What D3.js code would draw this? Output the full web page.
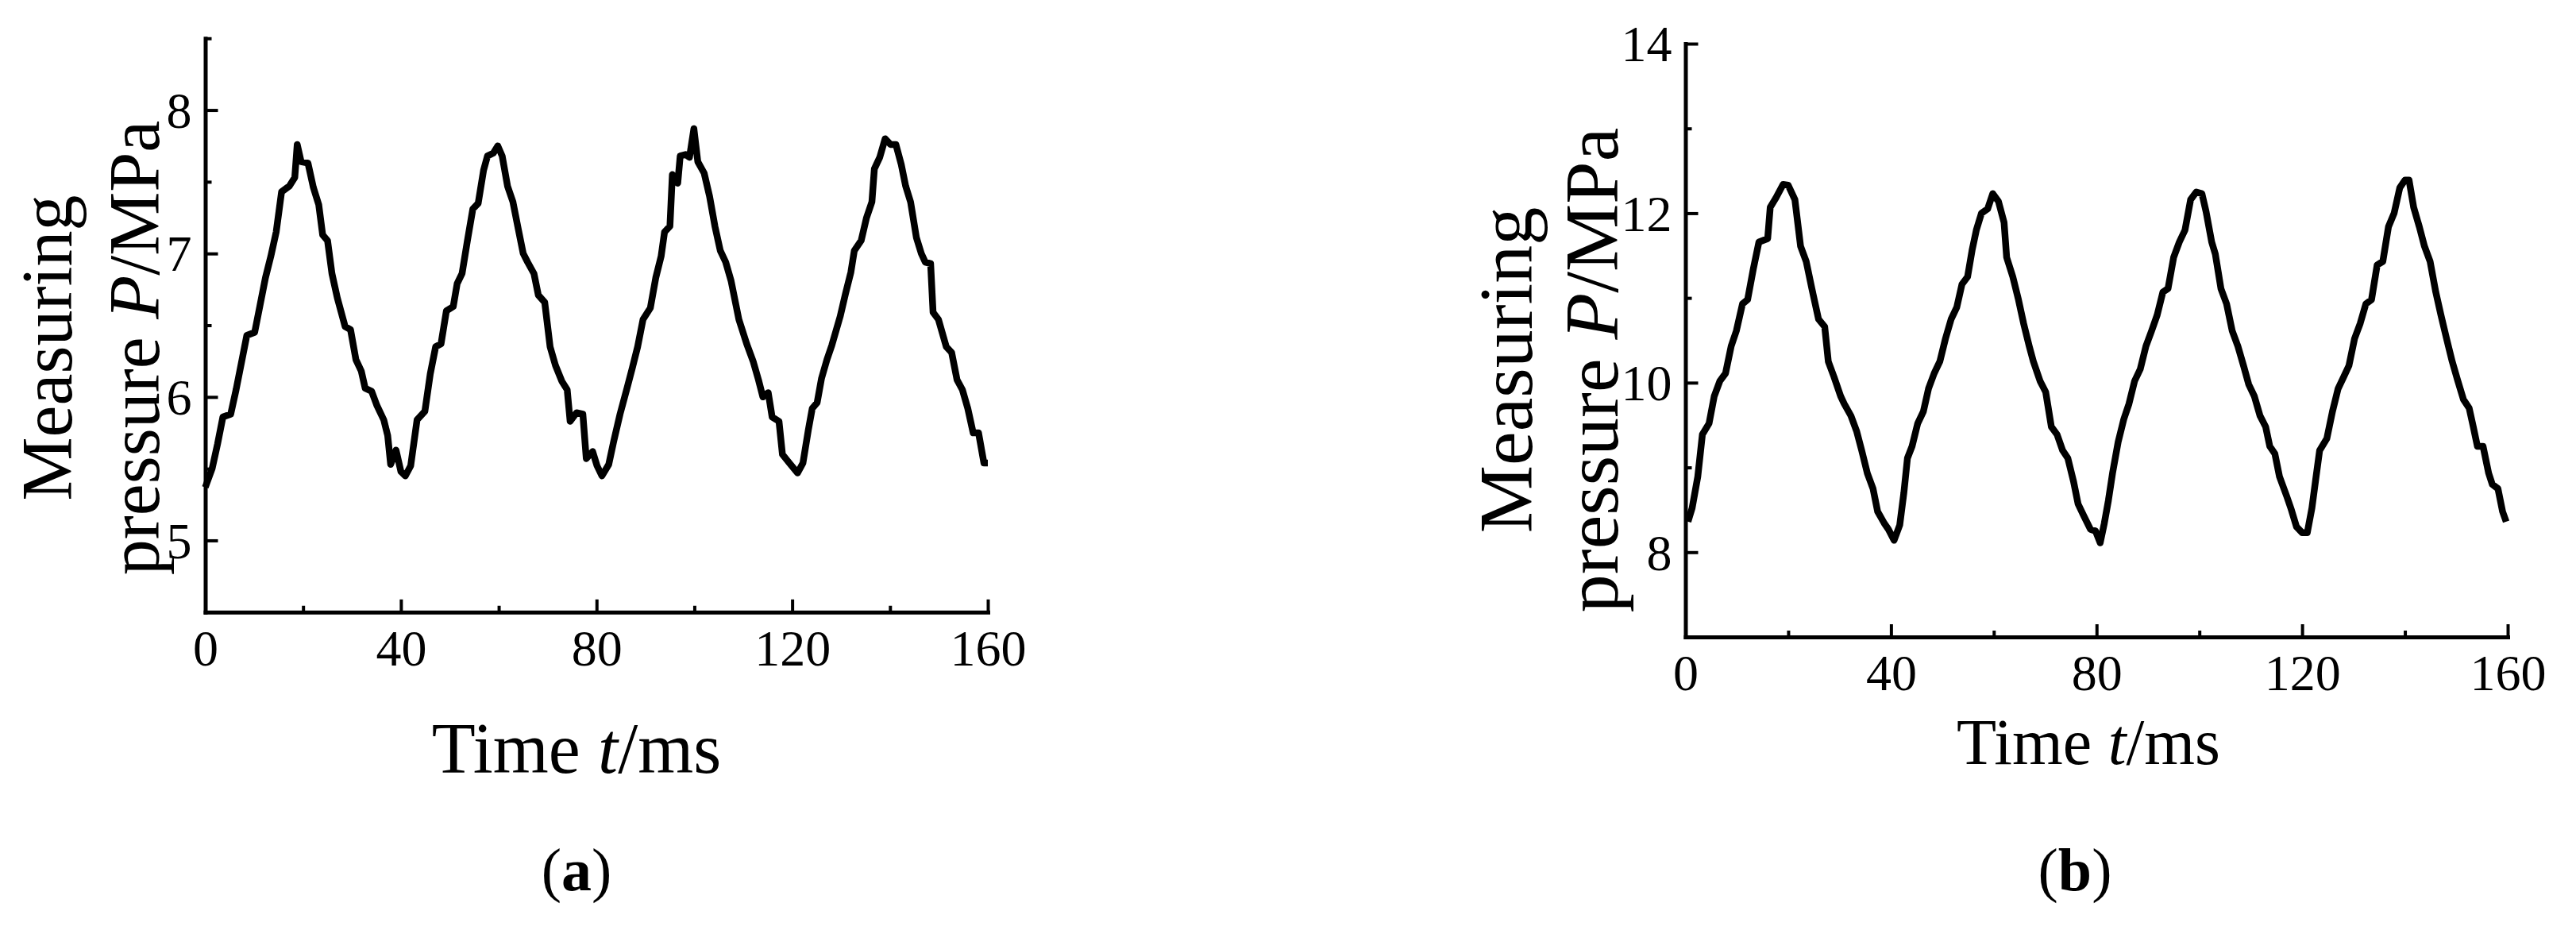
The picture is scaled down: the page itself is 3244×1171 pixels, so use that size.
<!DOCTYPE html>
<html><head><meta charset="utf-8">
<script src="https://cdn.jsdelivr.net/npm/d3@7"></script>
<style>
html,body{margin:0;padding:0;background:#fff;}
svg{display:block;}
text{font-family:"Liberation Serif","Times New Roman",Times,serif;fill:#000;}
</style></head>
<body>
<script>
// ---------- data ----------
const xTicks = [0, 40, 80, 120, 160];
const xMinorTicks = [20, 60, 100, 140];

const yTicksA = [5, 6, 7, 8];
const yMinorA = [5.5, 6.5, 7.5, 8.5];
const yTicksB = [8, 10, 12, 14];
const yMinorB = [9, 11, 13];

// (a) time (ms) and measured pressure (MPa)
const timeA = [0,1.4,2.5,3.6,5.2,6.3,7.4,8.5,10.1,11.2,12.3,13.4,14.5,15.6,17.2,18.3,18.8,19.6,21,22.1,23.2,24,25,25.9,27,28.6,29.7,30.8,31.9,32.7,34,35.1,36.5,37.3,37.9,39,40,40.9,42,43.3,44.9,46,47.1,48.2,49.3,50.7,51.5,52.5,53.6,54.7,55.8,56.9,57.7,58.9,59.8,60.7,61.8,62.9,64,65,65.9,67.2,68.1,69.4,70.5,71.6,72.9,74,74.6,75.9,77.2,77.9,79.2,80.1,81.1,82.5,83.5,84.8,86.3,87.3,88.4,89.5,91,92.1,93.2,93.9,95,95.5,96.6,97.1,98.2,99,99.9,100.7,102,103.1,104.2,105.3,106.4,107.5,109.1,110.7,112,113.1,114,115.1,115.9,117.3,118,119.4,121.1,122.2,123.3,124.1,125.1,126,127.1,128.1,129.8,130.9,132,132.7,134.1,135.2,136.3,136.8,137.9,139,140.1,141.2,142.3,143.2,144.2,145.4,146.4,147.2,148.3,148.8,149.9,151.5,152.6,153.7,154.8,155.9,157,158.1,159.2,160];
const pressureA = [5.37,5.50,5.67,5.86,5.88,6.05,6.24,6.43,6.45,6.64,6.83,6.98,7.15,7.43,7.47,7.53,7.76,7.64,7.63,7.46,7.34,7.13,7.09,6.86,6.69,6.49,6.47,6.26,6.18,6.06,6.04,5.94,5.84,5.73,5.53,5.63,5.48,5.45,5.52,5.84,5.90,6.16,6.35,6.37,6.60,6.63,6.79,6.86,7.09,7.31,7.35,7.58,7.68,7.70,7.75,7.68,7.47,7.36,7.17,7.00,6.94,6.86,6.71,6.66,6.35,6.22,6.11,6.05,5.83,5.89,5.88,5.57,5.62,5.52,5.45,5.53,5.69,5.88,6.07,6.20,6.35,6.54,6.62,6.83,6.98,7.15,7.19,7.55,7.49,7.68,7.69,7.67,7.87,7.64,7.56,7.40,7.19,7.02,6.94,6.81,6.54,6.37,6.25,6.12,6.00,6.03,5.86,5.83,5.60,5.54,5.47,5.54,5.77,5.92,5.96,6.13,6.26,6.36,6.56,6.72,6.87,7.02,7.09,7.25,7.36,7.59,7.67,7.80,7.76,7.76,7.62,7.47,7.36,7.11,7.00,6.94,6.93,6.59,6.54,6.35,6.31,6.12,6.05,5.92,5.75,5.75,5.54,5.54];

// (b) time (ms) and measured pressure (MPa)
const timeB = [0.5,1.3,2.4,3.3,4.6,5.6,6.7,7.8,8.9,9.9,11.1,12.1,13.2,14.3,16,16.5,17.6,19,20,21.3,22.4,23.5,24.6,25.9,27.1,27.8,28.9,30.2,30.9,32.2,33.3,34.3,35.4,36.5,37.4,38.7,39.5,40.6,41.7,42.5,43.2,44.1,45.2,46.3,47.3,48.4,49.5,50.6,51.7,52.8,53.8,54.9,55.8,56.6,57.6,58.8,59.8,60.9,62,62.5,63.7,64.8,65.8,66.9,67.7,69,70.1,71.2,72.3,73.4,74.4,75.5,76.4,77.5,78.8,79.8,80.7,81.5,82.3,83.1,84.2,85.3,86.3,87.4,88.5,89.6,90.7,91.8,92.9,93.9,95,96.1,97.2,98.3,99.4,100.5,101.3,102.4,103.1,104.2,105.3,106.4,107.5,108.6,109.6,110.7,111.8,112.9,113.7,114.7,115.6,117,117.8,118.9,120,121,121.9,122.6,123.4,124.8,125.9,127,128.1,129.1,130.2,131.3,132.4,133.5,134.6,135.7,136.8,137.9,139,140,140.8,141.7,142.8,143.8,144.9,146,147,148.1,149.2,150.3,151.4,152.5,153.3,154.1,155.2,156.3,157,158.1,159,159.7];
const pressureB = [8.36,8.52,8.89,9.39,9.52,9.84,10.02,10.11,10.43,10.61,10.93,10.98,11.34,11.66,11.70,12.07,12.18,12.34,12.33,12.16,11.61,11.43,11.11,10.75,10.66,10.25,10.07,9.84,9.75,9.61,9.43,9.20,8.93,8.75,8.48,8.34,8.27,8.14,8.32,8.70,9.11,9.25,9.52,9.66,9.93,10.11,10.25,10.52,10.75,10.89,11.16,11.25,11.57,11.80,12.00,12.05,12.23,12.14,11.89,11.48,11.25,10.98,10.70,10.43,10.25,10.02,9.89,9.48,9.39,9.20,9.11,8.84,8.57,8.43,8.27,8.25,8.11,8.34,8.61,8.93,9.30,9.57,9.75,10.02,10.16,10.43,10.61,10.80,11.07,11.11,11.48,11.66,11.80,12.16,12.25,12.23,12.02,11.66,11.52,11.11,10.93,10.61,10.43,10.20,9.98,9.84,9.61,9.48,9.25,9.16,8.89,8.66,8.52,8.30,8.23,8.23,8.52,8.84,9.20,9.34,9.66,9.93,10.07,10.20,10.52,10.70,10.93,10.98,11.39,11.43,11.84,12.00,12.30,12.39,12.39,12.07,11.84,11.61,11.43,11.07,10.80,10.52,10.25,10.02,9.80,9.70,9.48,9.25,9.25,8.93,8.80,8.75,8.48,8.36];

const xTitleText = ["Time ", "t", "/ms"];
const yTitleLine1 = "Measuring";
const yTitleLine2 = ["pressure ", "P", "/MPa"];

// ---------- layout ----------
const W = 3244, H = 1171;
const panels = [
  { t: timeA, p: pressureA, yDomain: [4.5, 8.5], yMajor: yTicksA, yMinor: yMinorA,
    x0: 258.5, x1: 1244, yTop: 48.25, yBot: 770.75,
    xTitle: { x: 726, y: 973, size: 90 },
    yTitle: { b1: 90, b2: 200, cy: 438, size: 90 },
    caption: { label: "a", x: 726, y: 1121 } },
  { t: timeB, p: pressureB, yDomain: [7, 14], yMajor: yTicksB, yMinor: yMinorB,
    x0: 2122.5, x1: 3158, yTop: 55, yBot: 802,
    xTitle: { x: 2630, y: 962, size: 82 },
    yTitle: { b1: 1929, b2: 2037, cy: 466, size: 96 },
    caption: { label: "b", x: 2613, y: 1121 } }
];

const svg = d3.select("body").append("svg").attr("width", W).attr("height", H);
svg.append("rect").attr("width", W).attr("height", H).attr("fill", "#fff");

panels.forEach(pn => {
  const x = d3.scaleLinear().domain([0, 160]).range([pn.x0, pn.x1]);
  const y = d3.scaleLinear().domain(pn.yDomain).range([pn.yBot, pn.yTop]);
  const g = svg.append("g");

  // x axis
  const gx = g.append("g").attr("transform", `translate(0,${pn.yBot})`)
    .call(d3.axisBottom(x).tickValues(xTicks).tickSizeInner(-16).tickSizeOuter(0).tickPadding(22).tickFormat(d3.format("d")));
  gx.selectAll("text").attr("font-size", 64).attr("dy", "0.71em");
  gx.append("g").call(d3.axisBottom(x).tickValues(xMinorTicks).tickSizeInner(-8).tickSizeOuter(0).tickFormat(""))
    .select(".domain").remove();

  // y axis
  const gy = g.append("g").attr("transform", `translate(${pn.x0},0)`)
    .call(d3.axisLeft(y).tickValues(pn.yMajor).tickSizeInner(-16).tickSizeOuter(0).tickPadding(17).tickFormat(d3.format("d")));
  gy.selectAll("text").attr("font-size", 64).attr("dy", "0.34em");
  gy.append("g").call(d3.axisLeft(y).tickValues(pn.yMinor).tickSizeInner(-8).tickSizeOuter(0).tickFormat(""))
    .select(".domain").remove();

  g.selectAll(".domain").attr("stroke", "#000").attr("stroke-width", 5).attr("stroke-linecap", "square");
  g.selectAll(".tick line").attr("stroke", "#000").attr("stroke-width", 4);
  g.selectAll(".tick text").attr("font-family", '"Liberation Serif","Times New Roman",serif').attr("fill", "#000");

  // data line
  const data = pn.t.map((t, i) => [t, pn.p[i]]);
  g.append("path").datum(data)
    .attr("fill", "none").attr("stroke", "#000").attr("stroke-width", 8.5)
    .attr("stroke-linejoin", "round").attr("stroke-linecap", "butt")
    .attr("d", d3.line().x(d => x(d[0])).y(d => y(d[1])));

  // x title
  const xt = g.append("text").attr("x", pn.xTitle.x).attr("y", pn.xTitle.y)
    .attr("text-anchor", "middle").attr("font-size", pn.xTitle.size);
  xTitleText.forEach((s, i) => xt.append("tspan").text(s).attr("font-style", i === 1 ? "italic" : null));

  // y title (two lines, rotated)
  g.append("text").attr("transform", `translate(${pn.yTitle.b1},${pn.yTitle.cy}) rotate(-90)`)
    .attr("text-anchor", "middle").attr("font-size", pn.yTitle.size).text(yTitleLine1);
  const yt = g.append("text").attr("transform", `translate(${pn.yTitle.b2},${pn.yTitle.cy}) rotate(-90)`)
    .attr("text-anchor", "middle").attr("font-size", pn.yTitle.size);
  yTitleLine2.forEach((s, i) => yt.append("tspan").text(s).attr("font-style", i === 1 ? "italic" : null));

  // caption
  const cp = g.append("text").attr("x", pn.caption.x).attr("y", pn.caption.y)
    .attr("text-anchor", "middle").attr("font-size", 76);
  cp.append("tspan").text("(");
  cp.append("tspan").text(pn.caption.label).attr("font-weight", "bold");
  cp.append("tspan").text(")");
});
</script>
</body></html>
